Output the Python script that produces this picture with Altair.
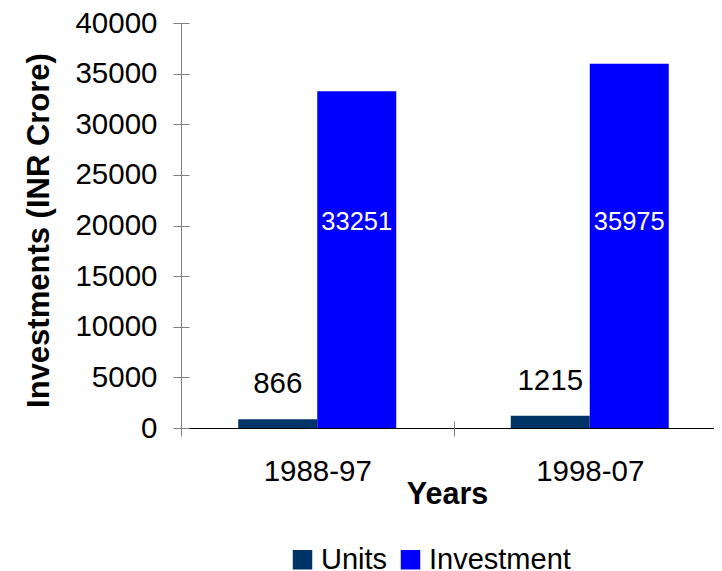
import altair as alt
import pandas as pd

periods = ["1988-97", "1998-07"]
series = ["Units", "Investment"]
units = [866, 1215]
investment = [33251, 35975]
y_ticks = [0, 5000, 10000, 15000, 20000, 25000, 30000, 35000, 40000]
colors = ["#003366", "#0000FF"]
inside_label_level = 20300

rows = []
for i, p in enumerate(periods):
    rows.append({"period": p, "series": "Units", "value": units[i]})
    rows.append({"period": p, "series": "Investment", "value": investment[i]})
df = pd.DataFrame(rows)

FONT = "Liberation Sans"

x_scale = alt.Scale(paddingInner=0, paddingOuter=0, range=[0, 545])
xo_scale = alt.Scale(paddingInner=0, paddingOuter=0.7247)
y_scale = alt.Scale(domain=[0, 40000], nice=False)

x_main = alt.X(
    "period:N", sort=periods, scale=x_scale,
    axis=alt.Axis(
        title="Years", labelAngle=0, labelFontSize=29.5, labelPadding=21,
        labelColor="black", labelFont=FONT,
        domainColor="black", domainWidth=1, tickColor="#808080", tickSize=8,
        tickBand="extent", titleFontSize=30.5, titleFontWeight="bold",
        titleFont=FONT, titleColor="black", titleX=266, titleY=75,
        titleAlign="center", titleBaseline="alphabetic", grid=False,
    ),
)
y_main = alt.Y(
    "value:Q", scale=y_scale,
    axis=alt.Axis(
        title="Investments (INR Crore)", values=y_ticks, format="d",
        labelFontSize=29.5, labelPadding=16, labelColor="black", labelFont=FONT,
        domainColor="#808080", tickColor="#808080", tickSize=8, grid=False,
        titleFontSize=31, titleFontWeight="bold", titleFont=FONT,
        titleColor="black", titleX=-142, titleY=207, titleAngle=270,
        titleAlign="center", titleBaseline="middle",
    ),
)
xo = alt.XOffset("series:N", sort=series, scale=xo_scale)

bars = alt.Chart(df).mark_bar().encode(
    x=x_main,
    xOffset=xo,
    y=y_main,
    color=alt.Color(
        "series:N", sort=series,
        scale=alt.Scale(domain=series, range=colors),
        legend=alt.Legend(
            title=None, orient="none", legendX=107, legendY=522,
            direction="horizontal", symbolType="square", symbolSize=380,
            symbolStrokeWidth=0, labelFontSize=29, labelFont=FONT,
            labelColor="black", labelOffset=4, columnPadding=8, padding=0,
            labelLimit=0,
        ),
    ),
)

units_labels = alt.Chart(df).transform_filter(
    alt.datum.series == "Units"
).mark_text(
    fontSize=29.5, font=FONT, color="black", baseline="alphabetic", dy=-26
).encode(
    x=alt.X("period:N", sort=periods, axis=None),
    xOffset=xo,
    y=alt.Y("value:Q", axis=None),
    text=alt.Text("value:Q", format="d"),
)

inv_labels = alt.Chart(df).transform_filter(
    alt.datum.series == "Investment"
).mark_text(
    fontSize=25.5, font=FONT, color="white", baseline="middle"
).encode(
    x=alt.X("period:N", sort=periods, axis=None),
    xOffset=xo,
    y=alt.YDatum(inside_label_level, axis=None),
    text=alt.Text("value:Q", format="d"),
)

inner_ticks = alt.Chart(df).mark_bar(opacity=0).encode(
    x=alt.X("period:N", sort=periods,
            axis=alt.Axis(orient="bottom", offset=-7, labels=False,
                          domain=False, title=None, tickSize=7,
                          tickColor="#808080", tickBand="extent", grid=False)),
    y=alt.Y("value:Q",
            axis=alt.Axis(orient="left", offset=-8, labels=False,
                          domain=False, title=None, tickSize=8,
                          tickColor="#808080", values=y_ticks, grid=False)),
)

chart = alt.layer(bars, units_labels, inv_labels, inner_ticks).resolve_axis(
    x="independent", y="independent"
).properties(
    width=533, height=405,
    autosize=alt.AutoSizeParams(type="none"),
    padding={"left": 173, "top": 15, "right": 0, "bottom": 142},
).configure_view(stroke=None)

chart.save("out.html", embed_options={"renderer": "svg", "actions": False})
